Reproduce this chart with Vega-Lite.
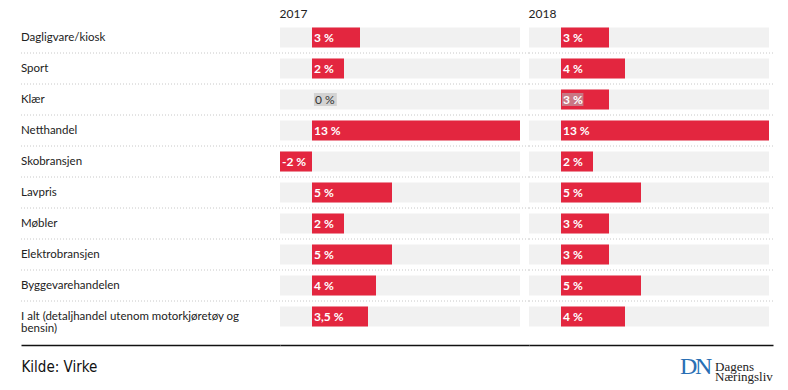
{
  "$schema": "https://vega.github.io/schema/vega-lite/v6.json",
  "padding": {"left": 20, "top": 8, "right": 0, "bottom": 0},
  "background": "white",
  "spacing": 0,
  "bounds": "flush",
  "config": {
    "view": {"stroke": null},
    "font": "Lato",
    "concat": {"spacing": 0},
    "axisX": {"domain": true, "domainColor": "#111111", "domainWidth": 1.5, "ticks": false, "labels": false, "grid": false, "offset": 13}
  },
  "datasets": {
    "rows": [
      {"cat": "Dagligvare/kiosk", "year": 2017, "value": 3, "label": "3 %"},
      {"cat": "Sport", "year": 2017, "value": 2, "label": "2 %"},
      {"cat": "Klær", "year": 2017, "value": 0, "label": "0 %"},
      {"cat": "Netthandel", "year": 2017, "value": 13, "label": "13 %"},
      {"cat": "Skobransjen", "year": 2017, "value": -2, "label": "-2 %"},
      {"cat": "Lavpris", "year": 2017, "value": 5, "label": "5 %"},
      {"cat": "Møbler", "year": 2017, "value": 2, "label": "2 %"},
      {"cat": "Elektrobransjen", "year": 2017, "value": 5, "label": "5 %"},
      {"cat": "Byggevarehandelen", "year": 2017, "value": 4, "label": "4 %"},
      {"cat": "I alt (detaljhandel utenom motorkjøretøy og\nbensin)", "year": 2017, "value": 3.5, "label": "3,5 %"},
      {"cat": "Dagligvare/kiosk", "year": 2018, "value": 3, "label": "3 %"},
      {"cat": "Sport", "year": 2018, "value": 4, "label": "4 %"},
      {"cat": "Klær", "year": 2018, "value": 3, "label": "3 %"},
      {"cat": "Netthandel", "year": 2018, "value": 13, "label": "13 %"},
      {"cat": "Skobransjen", "year": 2018, "value": 2, "label": "2 %"},
      {"cat": "Lavpris", "year": 2018, "value": 5, "label": "5 %"},
      {"cat": "Møbler", "year": 2018, "value": 3, "label": "3 %"},
      {"cat": "Elektrobransjen", "year": 2018, "value": 3, "label": "3 %"},
      {"cat": "Byggevarehandelen", "year": 2018, "value": 5, "label": "5 %"},
      {"cat": "I alt (detaljhandel utenom motorkjøretøy og\nbensin)", "year": 2018, "value": 4, "label": "4 %"}
    ]
  },
  "hconcat": [
    {
      "width": 259,
      "height": 310,
      "data": {"name": "rows"},
      "transform": [{"filter": "datum.year == 2017"}],
      "encoding": {
        "y": {"field": "cat", "type": "nominal", "sort": null, "axis": null, "scale": {"paddingInner": 0, "paddingOuter": 0}}
      },
      "layer": [
        {
          "transform": [{"filter": "indexof(datum.cat, 'I alt') < 0"}],
          "mark": {"type": "rule", "stroke": "#c8c8c8", "strokeWidth": 1, "strokeDash": [1, 2]},
          "encoding": {"y": {"field": "cat", "type": "nominal", "sort": null, "bandPosition": 1}}
        },
        {
          "mark": {"type": "text", "align": "left", "baseline": "middle", "lineBreak": "\n", "lineHeight": 12.5, "fontSize": 11.5, "color": "#222222", "font": "Lato"},
          "encoding": {
            "x": {"datum": 0, "type": "quantitative", "scale": {"domain": [0, 1], "nice": false}, "axis": {"title": "Kilde: Virke", "titleAnchor": "start", "titleAlign": "left", "titleFont": "DejaVu Sans Condensed, Liberation Sans Narrow, Roboto", "titleFontSize": 15, "titleFontWeight": "normal", "titleColor": "#111111", "titlePadding": 14}},
            "text": {"field": "cat"}
          }
        }
      ]
    },
    {
      "width": 249,
      "height": 310,
      "title": {"text": "2017", "anchor": "start", "fontSize": 12, "fontWeight": "normal", "font": "Lato", "color": "#222222", "offset": 1},
      "data": {"name": "rows"},
      "transform": [{"filter": "datum.year == 2017"}],
      "encoding": {
        "y": {"field": "cat", "type": "nominal", "sort": null, "axis": null, "scale": {"paddingInner": 0, "paddingOuter": 0}}
      },
      "layer": [
        {
          "transform": [{"filter": "indexof(datum.cat, 'I alt') < 0"}],
          "mark": {"type": "rule", "stroke": "#c8c8c8", "strokeWidth": 1, "strokeDash": [1, 2]},
          "encoding": {"y": {"field": "cat", "type": "nominal", "sort": null, "bandPosition": 1}}
        },
        {
          "mark": {"type": "bar", "color": "#f1f1f1", "size": 20},
          "encoding": {
            "x": {"datum": -2, "type": "quantitative", "scale": {"domain": [-2, 13.5625], "nice": false, "zero": false}, "axis": {"title": null}},
            "x2": {"datum": 13}
          }
        },
        {
          "mark": {"type": "bar", "color": "#e3263f", "size": 20},
          "encoding": {
            "x": {"field": "value", "type": "quantitative", "axis": {"title": null}},
            "x2": {"datum": 0}
          }
        },
        {
          "transform": [{"filter": "datum.value == 0"}],
          "mark": {"type": "bar", "color": "#d3d3d3", "size": 13},
          "encoding": {
            "x": {"datum": 0.12, "type": "quantitative", "axis": {"title": null}},
            "x2": {"datum": 1.55}
          }
        },
        {
          "transform": [{"filter": "datum.value > 0"}],
          "mark": {"type": "text", "align": "left", "baseline": "middle", "dx": 2, "fontSize": 12, "fontWeight": "bold", "color": "#ffffff", "font": "Lato"},
          "encoding": {"x": {"datum": 0, "type": "quantitative"}, "text": {"field": "label"}}
        },
        {
          "transform": [{"filter": "datum.value == 0"}],
          "mark": {"type": "text", "align": "left", "baseline": "middle", "dx": 3, "fontSize": 12, "color": "#333333", "font": "Lato"},
          "encoding": {"x": {"datum": 0, "type": "quantitative"}, "text": {"field": "label"}}
        },
        {
          "transform": [{"filter": "datum.value < 0"}],
          "mark": {"type": "text", "align": "left", "baseline": "middle", "dx": 2, "fontSize": 12, "fontWeight": "bold", "color": "#ffffff", "font": "Lato"},
          "encoding": {"x": {"field": "value", "type": "quantitative"}, "text": {"field": "label"}}
        }
      ]
    },
    {
      "width": 244,
      "height": 310,
      "title": {"text": "2018", "anchor": "start", "fontSize": 12, "fontWeight": "normal", "font": "Lato", "color": "#222222", "offset": 1},
      "data": {"name": "rows"},
      "transform": [{"filter": "datum.year == 2018"}],
      "encoding": {
        "y": {"field": "cat", "type": "nominal", "sort": null, "axis": null, "scale": {"paddingInner": 0, "paddingOuter": 0}}
      },
      "layer": [
        {
          "transform": [{"filter": "indexof(datum.cat, 'I alt') < 0"}],
          "mark": {"type": "rule", "stroke": "#c8c8c8", "strokeWidth": 1, "strokeDash": [1, 2]},
          "encoding": {"y": {"field": "cat", "type": "nominal", "sort": null, "bandPosition": 1}}
        },
        {
          "mark": {"type": "bar", "color": "#f1f1f1", "size": 20},
          "encoding": {
            "x": {"datum": -2, "type": "quantitative", "scale": {"domain": [-2, 13.25], "nice": false, "zero": false}, "axis": {"title": null}},
            "x2": {"datum": 13}
          }
        },
        {
          "mark": {"type": "bar", "color": "#e3263f", "size": 20},
          "encoding": {
            "x": {"field": "value", "type": "quantitative", "axis": {"title": null}},
            "x2": {"datum": 0}
          }
        },
        {
          "transform": [{"filter": "datum.cat == 'Klær'"}],
          "mark": {"type": "bar", "color": "#c97784", "size": 13},
          "encoding": {
            "x": {"datum": 0.06, "type": "quantitative", "axis": {"title": null}},
            "x2": {"datum": 1.4}
          }
        },
        {
          "transform": [{"filter": "datum.value > 0"}],
          "mark": {"type": "text", "align": "left", "baseline": "middle", "dx": 2, "fontSize": 12, "fontWeight": "bold", "color": "#ffffff", "font": "Lato"},
          "encoding": {"x": {"datum": 0, "type": "quantitative"}, "text": {"field": "label"}}
        },
        {
          "data": {"values": [{"t": "D"}]},
          "mark": {"type": "text", "align": "left", "baseline": "middle", "dx": -93, "dy": 50, "fontSize": 24, "font": "Liberation Serif", "color": "#2a6fb4"},
          "encoding": {"x": {"datum": 13.25, "type": "quantitative"}, "y": {"datum": "I alt (detaljhandel utenom motorkjøretøy og\nbensin)", "type": "nominal"}, "text": {"field": "t"}}
        },
        {
          "data": {"values": [{"t": "N"}]},
          "mark": {"type": "text", "align": "left", "baseline": "middle", "dx": -78, "dy": 50, "fontSize": 24, "font": "Liberation Serif", "color": "#2a6fb4"},
          "encoding": {"x": {"datum": 13.25, "type": "quantitative"}, "y": {"datum": "I alt (detaljhandel utenom motorkjøretøy og\nbensin)", "type": "nominal"}, "text": {"field": "t"}}
        },
        {
          "data": {"values": [{"t": "Dagens\nNæringsliv"}]},
          "mark": {"type": "text", "align": "left", "baseline": "middle", "lineBreak": "\n", "lineHeight": 10.5, "dx": -58, "dy": 50, "fontSize": 13, "font": "Liberation Serif", "color": "#222222"},
          "encoding": {"x": {"datum": 13.25, "type": "quantitative"}, "y": {"datum": "I alt (detaljhandel utenom motorkjøretøy og\nbensin)", "type": "nominal"}, "text": {"field": "t"}}
        }
      ]
    }
  ]
}
